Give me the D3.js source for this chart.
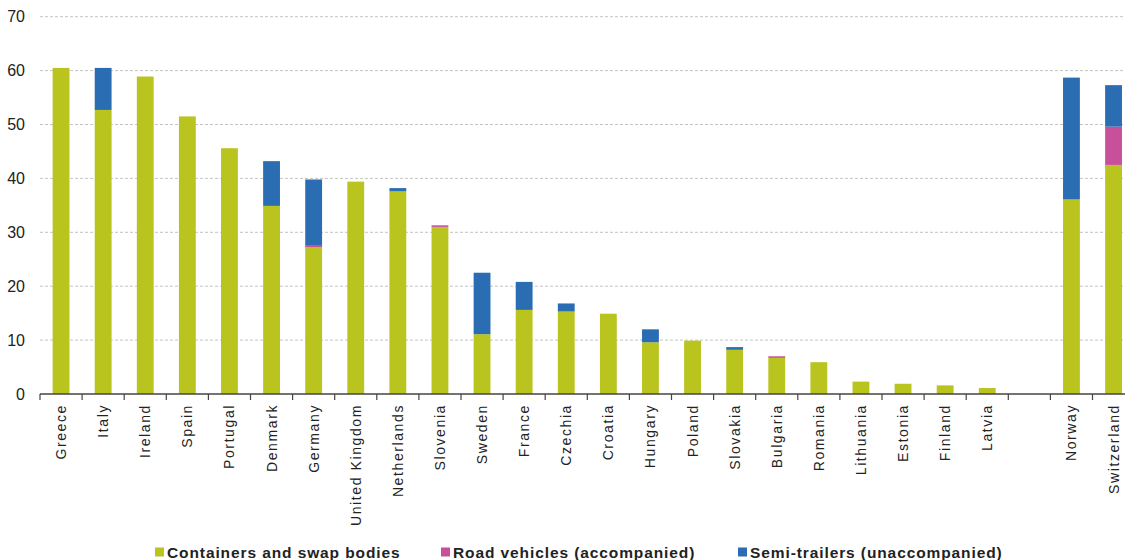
<!DOCTYPE html>
<html>
<head>
<meta charset="utf-8">
<script src="https://cdn.jsdelivr.net/npm/d3@7"></script>
<style>
	body { margin: 0; background: #fff; }
	svg { display: block; font-family: "Liberation Sans", Arial, sans-serif; }
</style>
</head>
<body>
<svg id="chart"></svg>
<script>
// countries in display order ("" is the gap between EU and EFTA)
const countries = ["Greece", "Italy", "Ireland", "Spain", "Portugal", "Denmark", "Germany",
	"United Kingdom", "Netherlands", "Slovenia", "Sweden", "France", "Czechia", "Croatia",
	"Hungary", "Poland", "Slovakia", "Bulgaria", "Romania", "Lithuania", "Estonia", "Finland",
	"Latvia", "", "Norway", "Switzerland"];

const containers = [60.5, 52.7, 58.9, 51.5, 45.6, 34.9, 27.2, 39.4, 37.6, 31.0, 11.1, 15.6,
	15.3, 14.9, 9.6, 9.9, 8.2, 6.7, 5.9, 2.3, 1.9, 1.6, 1.1, 0, 36.1, 42.5];
const roadVehicles = [0, 0, 0, 0, 0, 0, 0.3, 0, 0, 0.3, 0, 0,
	0, 0, 0, 0, 0, 0.3, 0, 0, 0, 0, 0, 0, 0, 7.1];
const semiTrailers = [0, 7.8, 0, 0, 0, 8.3, 12.3, 0, 0.6, 0, 11.4, 5.2,
	1.5, 0, 2.4, 0, 0.5, 0, 0, 0, 0, 0, 0, 0, 22.6, 7.7];

const seriesNames = ["Containers and swap bodies", "Road vehicles (accompanied)", "Semi-trailers (unaccompanied)"];
const seriesKeys = ["containers", "road", "semi"];
const colors = ["#b9c41f", "#c8509a", "#2a6db2"];
const yTicks = [0, 10, 20, 30, 40, 50, 60, 70];

let canvas = {"width": 1125, "height": 560,
	"marginLeft": 40, "marginTop": 16.7, "plotRight": 1134.6, "baseline": 394};

let table = countries.map((c, i) => ({
	id: i, country: c,
	containers: containers[i], road: roadVehicles[i], semi: semiTrailers[i]
}));

const svg = d3.select("#chart")
	.attr("width", canvas.width)
	.attr("height", canvas.height);

const xScale = d3.scaleBand()
	.domain(table.map(d => d.id))
	.range([canvas.marginLeft, canvas.plotRight])
	.paddingInner(0.6)
	.paddingOuter(0.3);

const yScale = d3.scaleLinear()
	.domain([0, 70])
	.range([canvas.baseline, canvas.marginTop]);

// gridlines
svg.selectAll(".grid")
	.data(yTicks.filter(t => t > 0))
	.join("line")
	.attr("class", "grid")
	.attr("x1", canvas.marginLeft)
	.attr("x2", canvas.width)
	.attr("y1", d => yScale(d))
	.attr("y2", d => yScale(d))
	.attr("stroke", "#c4c4c4")
	.attr("stroke-dasharray", "3,2")
	.attr("stroke-width", 1);

// y tick labels
svg.selectAll(".ylab")
	.data(yTicks)
	.join("text")
	.attr("class", "ylab")
	.text(d => d)
	.attr("x", 25)
	.attr("y", d => yScale(d))
	.attr("dy", "0.35em")
	.attr("text-anchor", "end")
	.attr("font-size", 16)
	.attr("fill", "#222");

// stacked bars
const stack = d3.stack().keys(seriesKeys)(table);

svg.selectAll(".series")
	.data(stack)
	.join("g")
	.attr("class", "series")
	.attr("fill", (d, i) => colors[i])
	.selectAll("rect")
	.data(d => d.filter(p => p[1] - p[0] > 0))
	.join("rect")
	.attr("x", d => xScale(d.data.id))
	.attr("width", xScale.bandwidth())
	.attr("y", d => yScale(d[1]))
	.attr("height", d => yScale(d[0]) - yScale(d[1]));

// x axis line and ticks between slots
const step = xScale.step();
svg.append("line")
	.attr("x1", canvas.marginLeft)
	.attr("x2", canvas.width)
	.attr("y1", canvas.baseline)
	.attr("y2", canvas.baseline)
	.attr("stroke", "#444")
	.attr("stroke-width", 1.5);

svg.selectAll(".xtick")
	.data(d3.range(countries.length + 1))
	.join("line")
	.attr("class", "xtick")
	.attr("x1", i => canvas.marginLeft + i * step)
	.attr("x2", i => canvas.marginLeft + i * step)
	.attr("y1", canvas.baseline)
	.attr("y2", canvas.baseline + 6)
	.attr("stroke", "#444")
	.attr("stroke-width", 1.2);

// country labels, rotated
svg.selectAll(".xlab")
	.data(table.filter(d => d.country !== ""))
	.join("text")
	.attr("class", "xlab")
	.text(d => d.country)
	.attr("transform", d => `translate(${xScale(d.id) + xScale.bandwidth() / 2 + 5}, 404) rotate(-90)`)
	.attr("text-anchor", "end")
	.attr("font-size", 14)
	.attr("letter-spacing", 1.6)
	.attr("fill", "#222");

// legend
const legendX = [155, 441, 738];
const legend = svg.selectAll(".legend")
	.data(seriesNames)
	.join("g")
	.attr("class", "legend")
	.attr("transform", (d, i) => `translate(${legendX[i]}, 552)`);

legend.append("rect")
	.attr("x", 0)
	.attr("y", -4.5)
	.attr("width", 9)
	.attr("height", 9)
	.attr("fill", (d, i) => colors[i]);

legend.append("text")
	.text(d => d)
	.attr("x", 12)
	.attr("y", 0)
	.attr("dy", "0.36em")
	.attr("font-size", 15.5)
	.attr("font-weight", "bold")
	.attr("letter-spacing", 0.9)
	.attr("fill", "#222");
</script>
</body>
</html>
